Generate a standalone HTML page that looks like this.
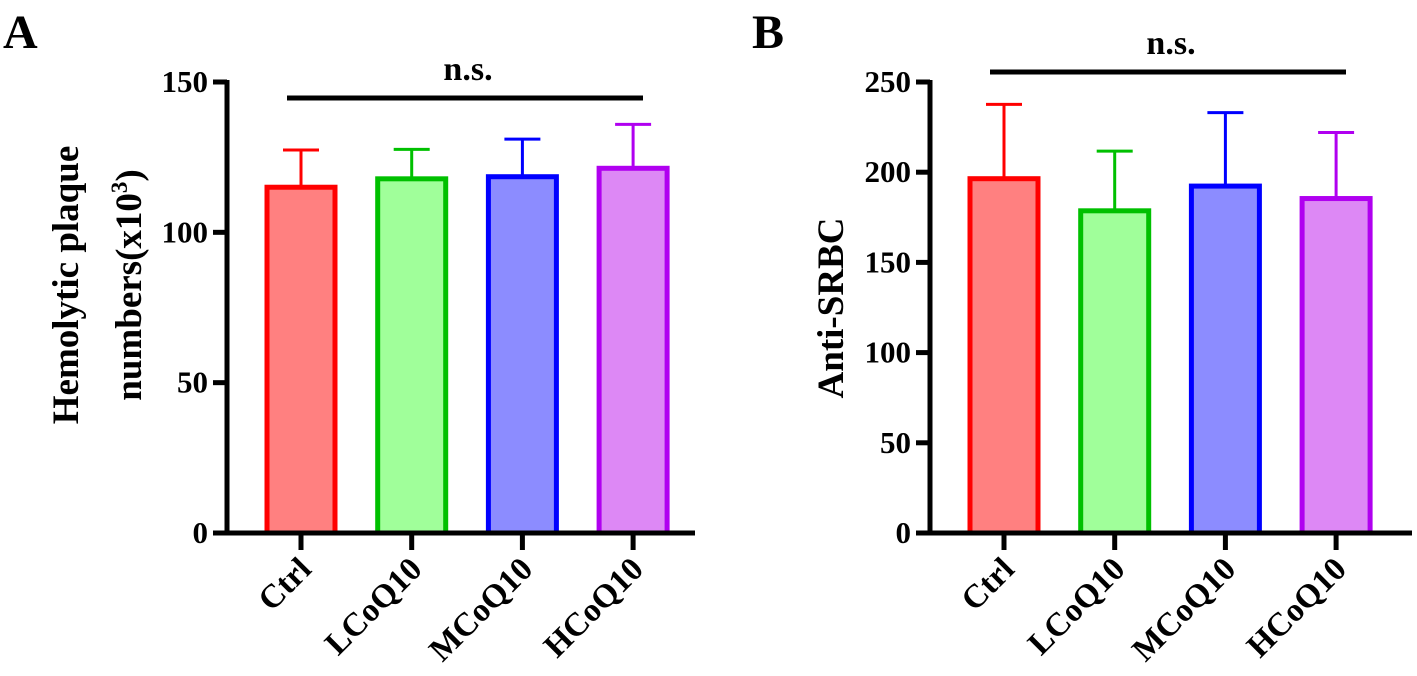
<!DOCTYPE html>
<html><head><meta charset="utf-8">
<style>
html,body{margin:0;padding:0;background:#fff;}
svg{display:block;font-family:"Liberation Serif",serif;font-weight:bold;}
</style></head>
<body>
<svg id="chart" width="1417" height="676" viewBox="0 0 1417 676">
<text x="3" y="48" font-size="48">A</text>
<text x="752" y="48" font-size="48">B</text>
<g id="panelA"></g>
<g id="panelB"></g>
</svg>
<script>
const categories = ["Ctrl","LCoQ10","MCoQ10","HCoQ10"];
const valuesA = [115, 117.8, 118.5, 121.3];
const errorsA = [127.4, 127.6, 131.0, 135.9];
const ticksA = [0, 50, 100, 150];
const valuesB = [196.4, 178.6, 192.3, 185.4];
const errorsB = [237.6, 211.7, 233, 222];
const ticksB = [0, 50, 100, 150, 200, 250];
const fills = ["#ff8080","#a0ff9a","#8c8cff","#dd88f5"];
const strokes = ["#ff0000","#00c000","#0000ff","#b000f0"];
const NS = "http://www.w3.org/2000/svg";
function mk(parent, tag, attrs, text){
  const e = document.createElementNS(NS, tag);
  for (const k in attrs) e.setAttribute(k, attrs[k]);
  if (text !== undefined) e.textContent = text;
  parent.appendChild(e); return e;
}
function panel(g, ox, vals, errs, ticks, ymax, nsY, nsTextY, titleLines, xEnd){
  const y0 = 533, y1 = 82;
  const y = v => y0 - (v / ymax) * (y0 - y1);
  const ax = ox;
  const cx = i => ax + 74 + i * 110.7;
  vals.forEach((v, i) => {
    const x = cx(i);
    const eb = mk(g, "line", {x1:x, x2:x, y1:y(v), y2:y(errs[i]), stroke:strokes[i], "stroke-width":3});
    
    
    const cap = mk(g, "line", {x1:x-18, x2:x+18, y1:y(errs[i]), y2:y(errs[i]), stroke:strokes[i], "stroke-width":3});
    
    
    const r = mk(g, "rect", {x:x-34, y:y(v), width:68, height:y0 - y(v), fill:fills[i], stroke:strokes[i], "stroke-width":5});
    
    
  });
  const yl = mk(g, "line", {x1:ax, x2:ax, y1:y1-2, y2:y0+2, stroke:"#000", "stroke-width":5});
  
  
  ticks.forEach(t => {
    const tk = mk(g, "line", {x1:ax-14, x2:ax, y1:y(t), y2:y(t), stroke:"#000", "stroke-width":5});
    
    
    const tl = mk(g, "text", {x:ax-19, y:y(t)+10, "font-size":31, "text-anchor":"end"}, String(t));
    
    
  });
  const xl = mk(g, "line", {x1:ax-14, x2:xEnd, y1:y0, y2:y0, stroke:"#000", "stroke-width":5});
  
  
  categories.forEach((c, i) => {
    const x = cx(i);
    const tk = mk(g, "line", {x1:x, x2:x, y1:y0, y2:y0+17, stroke:"#000", "stroke-width":5});
    
    
    const tl = mk(g, "text", {x:x+12, y:y0+38, "font-size":33, "text-anchor":"end", transform:`rotate(-45 ${x+12} ${y0+38})`}, c);
    
    
  });
  const sl = mk(g, "line", {x1:ax+60, x2:ax+416, y1:nsY, y2:nsY, stroke:"#000", "stroke-width":5});
  
  
  const st = mk(g, "text", {x:ax+241, y:nsTextY, "font-size":34, "text-anchor":"middle"}, "n.s.");
  
  
  titleLines.forEach((ln, k) => {
    const tx = titleLines.length === 1 ? ax - 87 : ax - 149 + k * 63;
    const cy = titleLines.length === 1 ? 308 : 285;
    const t = mk(g, "text", {x:tx, y:cy, "font-size":37, "text-anchor":"middle", transform:`rotate(-90 ${tx} ${cy})`});
    
    
    t.innerHTML = ln;
  });
}
panel(document.getElementById("panelA"), 227, valuesA, errorsA, ticksA, 150, 98, 80,
  ["Hemolytic plaque", "numbers(x10<tspan dy='-14' font-size='23'>3</tspan><tspan dy='14'>)</tspan>"], 695);
panel(document.getElementById("panelB"), 930, valuesB, errorsB, ticksB, 250, 72, 54, ["Anti-SRBC"], 1412);
</script>
</body></html>
